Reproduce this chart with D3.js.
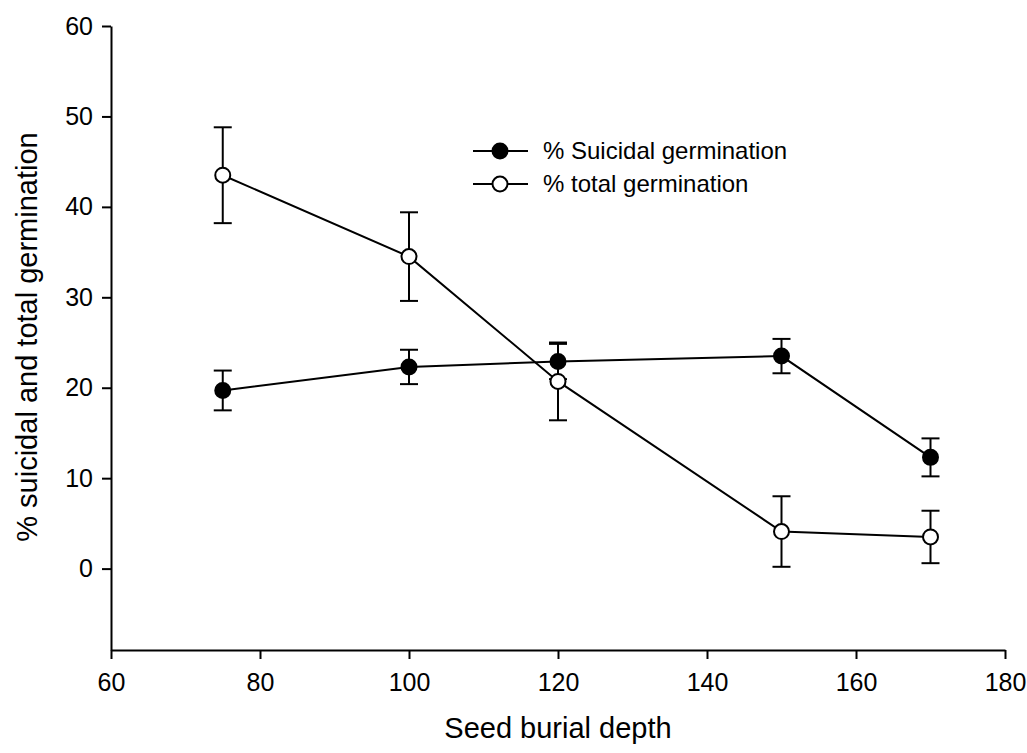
<!DOCTYPE html>
<html>
<head>
<meta charset="utf-8">
<script src="https://cdn.jsdelivr.net/npm/d3@7"></script>
<style>
  body { margin: 0; background: #fff; overflow: hidden; }
  svg { display: block; font-family: "Liberation Sans", Arial, sans-serif; }
</style>
</head>
<body>
<svg id="chart"></svg>
<script>
// dubina sjetve i postotci klijanja
const depths = [75, 100, 120, 150, 170];
const suicidal = [19.7, 22.3, 22.9, 23.5, 12.3];
const suicidalErr = [2.2, 1.9, 1.95, 1.9, 2.1];
const total = [43.5, 34.5, 20.7, 4.1, 3.5];
const totalErr = [5.3, 4.9, 4.3, 3.9, 2.9];
const xTicks = [60, 80, 100, 120, 140, 160, 180];
const yTicks = [0, 10, 20, 30, 40, 50, 60];

const width = 1027;
const height = 753;
const margin = { top: 26, right: 22, bottom: 103, left: 111 };
const innerWidth = width - margin.left - margin.right;
const innerHeight = height - margin.top - margin.bottom;

const svg = d3.select("#chart")
    .attr("width", width)
    .attr("height", height)
    .attr("viewBox", `0 0 ${width} ${height}`);

const g = svg.append("g")
    .attr("transform", `translate(${margin.left},${margin.top})`);

const x = d3.scaleLinear().domain([60, 180]).range([0, innerWidth]);
const y = d3.scaleLinear().domain([-9, 60]).range([innerHeight, 0]);

// osi
const xAxis = g.append("g")
    .attr("transform", `translate(0,${innerHeight})`)
    .call(d3.axisBottom(x).tickValues(xTicks).tickSize(9).tickPadding(14).tickSizeOuter(0));
const yAxis = g.append("g")
    .call(d3.axisLeft(y).tickValues(yTicks).tickSize(9).tickPadding(9).tickSizeOuter(0));

[xAxis, yAxis].forEach(a => {
    a.select(".domain").attr("stroke", "#000").attr("stroke-width", 2);
    a.selectAll(".tick line").attr("stroke", "#000").attr("stroke-width", 2);
    a.selectAll(".tick text").attr("fill", "#000").attr("font-size", 25)
        .attr("font-family", "Liberation Sans, Arial, sans-serif");
});

const series = [
    { name: "% Suicidal germination", values: suicidal, err: suicidalErr, fill: "#000" },
    { name: "% total germination", values: total, err: totalErr, fill: "#fff" }
];

const line = d3.line()
    .x(d => x(d.depth))
    .y(d => y(d.value));

series.forEach(s => {
    const pts = depths.map((d, i) => ({ depth: d, value: s.values[i], err: s.err[i] }));
    const sg = g.append("g");

    // stupci pogreške
    const eb = sg.selectAll(".err").data(pts).enter().append("g")
        .attr("stroke", "#000").attr("stroke-width", 2);
    eb.append("line")
        .attr("x1", d => x(d.depth)).attr("x2", d => x(d.depth))
        .attr("y1", d => y(d.value - d.err)).attr("y2", d => y(d.value + d.err));
    eb.append("line")
        .attr("x1", d => x(d.depth) - 9).attr("x2", d => x(d.depth) + 9)
        .attr("y1", d => y(d.value + d.err)).attr("y2", d => y(d.value + d.err));
    eb.append("line")
        .attr("x1", d => x(d.depth) - 9).attr("x2", d => x(d.depth) + 9)
        .attr("y1", d => y(d.value - d.err)).attr("y2", d => y(d.value - d.err));

    sg.append("path")
        .datum(pts)
        .attr("fill", "none")
        .attr("stroke", "#000")
        .attr("stroke-width", 2)
        .attr("d", line);

    sg.selectAll("circle").data(pts).enter().append("circle")
        .attr("cx", d => x(d.depth))
        .attr("cy", d => y(d.value))
        .attr("r", 7.5)
        .attr("fill", s.fill)
        .attr("stroke", "#000")
        .attr("stroke-width", 2);
});

// legenda
const legend = svg.append("g").attr("transform", "translate(473,151)");
series.forEach((s, i) => {
    const row = legend.append("g").attr("transform", `translate(0,${i * 33})`);
    row.append("line").attr("x1", 0).attr("x2", 55).attr("y1", 0).attr("y2", 0)
        .attr("stroke", "#000").attr("stroke-width", 2);
    row.append("circle").attr("cx", 27).attr("cy", 0).attr("r", 7.5)
        .attr("fill", s.fill).attr("stroke", "#000").attr("stroke-width", 2);
    row.append("text").attr("x", 70).attr("y", 0).attr("dy", "0.35em")
        .attr("font-size", 24).attr("fill", "#000").text(s.name);
});

// naslovi osi
svg.append("text")
    .attr("x", margin.left + innerWidth / 2)
    .attr("y", 738)
    .attr("text-anchor", "middle")
    .attr("font-size", 29)
    .text("Seed burial depth");

svg.append("text")
    .attr("transform", `translate(37,337) rotate(-90)`)
    .attr("text-anchor", "middle")
    .attr("font-size", 29)
    .text("% suicidal and total germination");
</script>
</body>
</html>
